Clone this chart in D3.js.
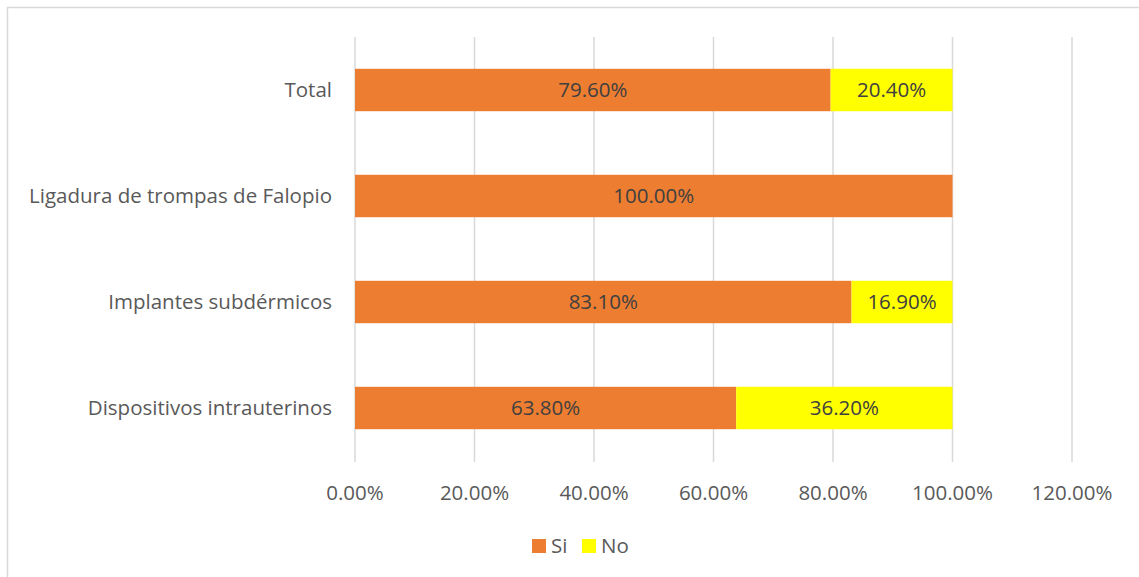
<!DOCTYPE html>
<html>
<head>
<meta charset="utf-8">
<script src="https://cdn.jsdelivr.net/npm/d3@7"></script>
<style>
  body { margin: 0; background: #fff; }
  text { font-family: "Open Sans", Lato, sans-serif; }
</style>
</head>
<body>
<script>
const categories = [
  'Total',
  'Ligadura de trompas de Falopio',
  'Implantes subdérmicos',
  'Dispositivos intrauterinos',
]
const si = [79.6, 100.0, 83.1, 63.8]
const no = [20.4, 0, 16.9, 36.2]
const ticks = [0, 20, 40, 60, 80, 100, 120]
const seriesNames = ['Si', 'No']
const seriesColors = ['#ed7d31', '#ffff00']

const width = 1139
const height = 577
const fontSize = '20.5px'
const svg = d3.select('body').append('svg').attr('width', width).attr('height', height)

// chart border, cut off at right and bottom like the original
svg.append('rect')
  .attr('x', 7.5).attr('y', 7.5)
  .attr('width', 1140).attr('height', 580)
  .attr('fill', 'none')
  .attr('stroke', '#d9d9d9')
  .attr('stroke-width', 1.5)

const x = d3.scaleLinear().domain([0, 120]).range([355, 1072])
const y = d3.scaleBand().domain(categories).range([37, 461]).paddingInner(0.6).paddingOuter(0.3)

// gridlines
svg.selectAll('.grid')
  .data(ticks)
  .enter()
  .append('line')
  .attr('x1', (d) => x(d)).attr('x2', (d) => x(d))
  .attr('y1', 37).attr('y2', 462)
  .attr('stroke', '#d9d9d9')
  .attr('stroke-width', 1.5)

// tick labels
svg.selectAll('.tick')
  .data(ticks)
  .enter()
  .append('text')
  .attr('x', (d) => x(d))
  .attr('y', 493)
  .attr('dy', '0.35em')
  .attr('text-anchor', 'middle')
  .attr('fill', '#595959')
  .style('font-size', fontSize)
  .text((d) => d.toFixed(2) + '%')

const rows = categories.map((c, i) => ({ cat: c, si: si[i], no: no[i] }))

// category labels
svg.selectAll('.cat')
  .data(rows)
  .enter()
  .append('text')
  .attr('x', 332)
  .attr('y', (d) => y(d.cat) + y.bandwidth() / 2)
  .attr('dy', '0.35em')
  .attr('text-anchor', 'end')
  .attr('fill', '#595959')
  .style('font-size', fontSize)
  .text((d) => d.cat)

// Si bars
svg.selectAll('.si')
  .data(rows)
  .enter()
  .append('rect')
  .attr('x', x(0))
  .attr('y', (d) => y(d.cat))
  .attr('width', (d) => x(d.si) - x(0))
  .attr('height', y.bandwidth())
  .attr('fill', seriesColors[0])

// No bars
svg.selectAll('.no')
  .data(rows.filter((d) => d.no > 0))
  .enter()
  .append('rect')
  .attr('x', (d) => x(d.si))
  .attr('y', (d) => y(d.cat))
  .attr('width', (d) => x(d.si + d.no) - x(d.si))
  .attr('height', y.bandwidth())
  .attr('fill', seriesColors[1])

// data labels
svg.selectAll('.lsi')
  .data(rows)
  .enter()
  .append('text')
  .attr('x', (d) => (x(0) + x(d.si)) / 2)
  .attr('y', (d) => y(d.cat) + y.bandwidth() / 2)
  .attr('dy', '0.35em')
  .attr('text-anchor', 'middle')
  .attr('fill', '#404040')
  .style('font-size', fontSize)
  .text((d) => d.si.toFixed(2) + '%')

svg.selectAll('.lno')
  .data(rows.filter((d) => d.no > 0))
  .enter()
  .append('text')
  .attr('x', (d) => (x(d.si) + x(d.si + d.no)) / 2)
  .attr('y', (d) => y(d.cat) + y.bandwidth() / 2)
  .attr('dy', '0.35em')
  .attr('text-anchor', 'middle')
  .attr('fill', '#404040')
  .style('font-size', fontSize)
  .text((d) => d.no.toFixed(2) + '%')

// legend
const legendX = [532, 582]
const legend = svg.selectAll('.leg')
  .data(seriesNames)
  .enter()
  .append('g')
  .attr('transform', (d, i) => `translate(${legendX[i]}, 539)`)
legend.append('rect')
  .attr('width', 14).attr('height', 14)
  .attr('fill', (d, i) => seriesColors[i])
legend.append('text')
  .attr('x', 19).attr('y', 7)
  .attr('dy', '0.35em')
  .attr('fill', '#595959')
  .style('font-size', fontSize)
  .text((d) => d)
</script>
</body>
</html>
